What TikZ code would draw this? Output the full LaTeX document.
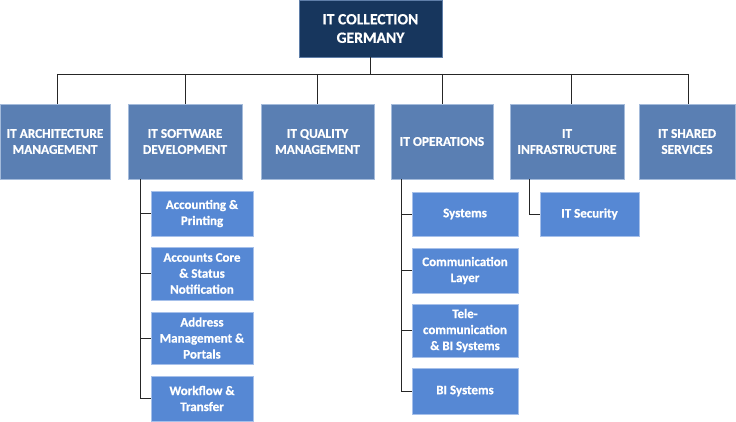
\documentclass[tikz,border=0pt]{standalone}
\usepackage{fontspec}
\setmainfont{Carlito}[BoldFeatures={FakeBold=0.6}]
\begin{document}
\begin{tikzpicture}[x=1pt,y=-1pt,
  base/.style={draw, line width=0.8pt, text=white, align=center, inner sep=0pt},
  rootbox/.style={base, fill=rootc, draw=rootb, font=\bfseries\fontsize{15.6}{18.5}\selectfont},
  topbox/.style={base, fill=lvlone, draw=lvloneb, font=\bfseries\fontsize{13.3}{16}\selectfont},
  subbox/.style={base, fill=lvltwo, draw=lvltwob, font=\bfseries\fontsize{13}{16}\selectfont},
  conn/.style={draw=black!85, line width=0.8pt}]
\definecolor{rootc}{HTML}{17365D}
\definecolor{rootb}{HTML}{5F7EA8}
\definecolor{lvlone}{HTML}{5A7FB3}
\definecolor{lvloneb}{HTML}{A4BBDB}
\definecolor{lvltwo}{HTML}{5688D4}
\definecolor{lvltwob}{HTML}{A6C0EA}
\useasboundingbox (0,0) rectangle (736,422);
% root
\node[rootbox, minimum width=143, minimum height=57] (root) at (370.5,28.5) {IT COLLECTION\\GERMANY};
% level 1
\node[topbox, minimum width=110, minimum height=75] (arch) at (55,141.5) {IT ARCHITECTURE\\MANAGEMENT};
\node[topbox, minimum width=114, minimum height=75] (sw) at (185,141.5) {IT SOFTWARE\\DEVELOPMENT};
\node[topbox, minimum width=113, minimum height=75] (qm) at (317.5,141.5) {IT QUALITY\\MANAGEMENT};
\node[topbox, minimum width=102, minimum height=75] (ops) at (442,141.5) {IT OPERATIONS};
\node[topbox, minimum width=114, minimum height=75] (infra) at (567,141.5) {IT\\INFRASTRUCTURE};
\node[topbox, minimum width=96, minimum height=75] (shared) at (687,141.5) {IT SHARED\\SERVICES};
% bus
\coordinate (bus) at (370.5,74);
\coordinate (busl) at (57,74);
\coordinate (busr) at (688,74);
\draw[conn] (root.south) -- (bus);
\draw[conn] (busl) -- (busr);
\draw[conn] (busl) -- (busl |- arch.north);
\draw[conn] (busr) -- (busr |- shared.north);
\foreach \n/\x in {sw/185,qm/317,ops/442,infra/571}{
  \draw[conn] (\x,74) -- (\x,0 |- \n.north);
}
% software development children
\node[subbox, minimum width=102, minimum height=45] (acc) at (202,213.5) {Accounting \&\\Printing};
\node[subbox, minimum width=102, minimum height=53] (core) at (202,273.5) {Accounts Core\\\& Status\\Notification};
\node[subbox, minimum width=102, minimum height=52] (addr) at (202,338) {Address\\Management \&\\Portals};
\node[subbox, minimum width=102, minimum height=45] (wf) at (202,398.5) {Workflow \&\\Transfer};
\coordinate (swline) at (140,179);
\foreach \n in {acc,core,addr,wf}{
  \draw[conn] (sw.south -| swline) |- (\n.west);
}
% operations children
\node[subbox, minimum width=106, minimum height=44] (sys) at (465,214) {Systems};
\node[subbox, minimum width=106, minimum height=45] (comm) at (465,270.5) {Communication\\Layer};
\node[subbox, minimum width=106, minimum height=53] (tele) at (465,330.5) {Tele-\\communication\\\& BI Systems};
\node[subbox, minimum width=106, minimum height=46] (bi) at (465,391) {BI Systems};
\coordinate (opsline) at (401,179);
\foreach \n in {sys,comm,tele,bi}{
  \draw[conn] (ops.south -| opsline) |- (\n.west);
}
% infrastructure child
\node[subbox, minimum width=99, minimum height=44] (sec) at (589.5,214) {IT Security};
\coordinate (infraline) at (529,179);
\draw[conn] (infra.south -| infraline) |- (sec.west);
\end{tikzpicture}
\end{document}
